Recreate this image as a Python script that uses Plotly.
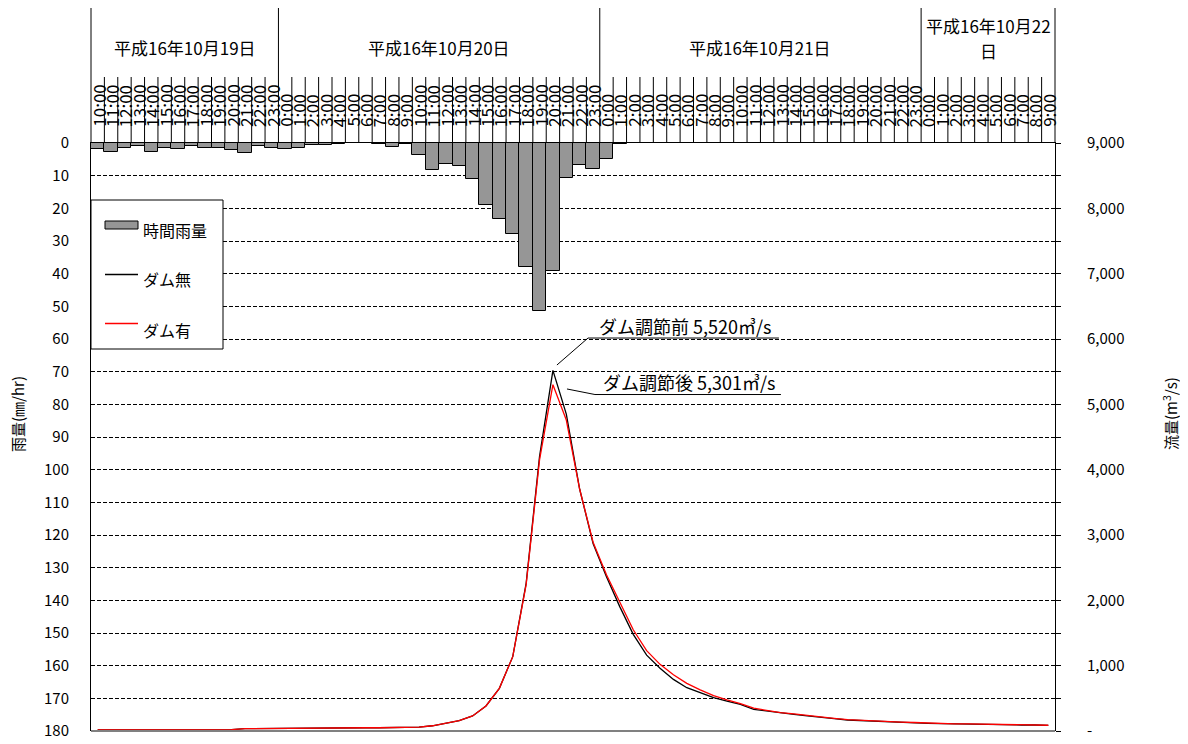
import plotly.graph_objects as go

# ---------------- data ----------------
hour_labels = [
    "10:00", "11:00", "12:00", "13:00", "14:00", "15:00", "16:00", "17:00", "18:00", "19:00",
    "20:00", "21:00", "22:00", "23:00",
    "0:00", "1:00", "2:00", "3:00", "4:00", "5:00", "6:00", "7:00", "8:00", "9:00",
    "10:00", "11:00", "12:00", "13:00", "14:00", "15:00", "16:00", "17:00", "18:00", "19:00",
    "20:00", "21:00", "22:00", "23:00",
    "0:00", "1:00", "2:00", "3:00", "4:00", "5:00", "6:00", "7:00", "8:00", "9:00",
    "10:00", "11:00", "12:00", "13:00", "14:00", "15:00", "16:00", "17:00", "18:00", "19:00",
    "20:00", "21:00", "22:00", "23:00",
    "0:00", "1:00", "2:00", "3:00", "4:00", "5:00", "6:00", "7:00", "8:00", "9:00",
]
# day labels, each as its wrapped lines
day_labels = [["平成16年10月19日"], ["平成16年10月20日"], ["平成16年10月21日"], ["平成16年10月22", "日"]]
day_hours = [14, 24, 24, 10]

rain = [
    1.8, 2.7, 1.5, 0.8, 2.7, 1.5, 1.8, 0.8, 1.5, 1.5, 2.2, 3.0, 0.8, 1.5,
    1.8, 1.5, 0.5, 0.5, 0.4, 0.1, 0.1, 0.2, 1.2, 0.4,
    3.8, 8.3, 6.4, 7.1, 11.0, 18.9, 23.2, 27.8, 38.0, 51.5, 39.2, 10.7, 6.8, 7.9,
    4.8, 0.2, 0.1, 0, 0, 0, 0, 0, 0, 0, 0, 0, 0, 0, 0, 0, 0, 0, 0, 0, 0, 0, 0, 0,
    0, 0, 0, 0, 0, 0, 0, 0, 0, 0,
]

flow_no_dam = [
    15, 15, 15, 15, 15, 15, 15, 15, 15, 15, 20, 35, 38, 40,
    42, 45, 47, 48, 49, 50, 50, 50, 50, 52,
    60, 80, 115, 158, 230, 383, 653, 1138, 2260, 4200, 5520, 4850, 3700, 2870,
    2360, 1900, 1480, 1160, 960, 790, 663, 587, 510, 459, 408, 332, 306, 270, 255, 230,
    204, 189, 168, 158, 148, 143, 133, 128,
    117, 112, 107, 107, 102, 97, 92, 92, 92, 87,
]

flow_dam = [
    15, 15, 15, 15, 15, 15, 15, 15, 15, 15, 20, 35, 38, 40,
    42, 45, 47, 48, 49, 50, 50, 50, 50, 52,
    60, 80, 115, 158, 230, 383, 653, 1138, 2240, 4150, 5301, 4760, 3700, 2890,
    2390, 1960, 1550, 1230, 1020, 860, 730, 630, 540, 475, 420, 350, 315, 280, 262, 236,
    210, 194, 173, 162, 152, 146, 136, 130,
    120, 114, 109, 108, 103, 98, 93, 93, 92, 88,
]

peak_texts = ["ダム調節前 5,520㎥/s", "ダム調節後 5,301㎥/s"]
legend_names = ["時間雨量", "ダム無", "ダム有"]

# ---------------- figure ----------------
FONT = "Noto Sans CJK JP"
OFF = 8                      # page body margin of the html page
W, H = 1188 - OFF, 744 - OFF
L, T, B = 91 - OFF, 143 - OFF, 13
PW = 964
R = W - L - PW
PH = H - T - B
idx = list(range(len(hour_labels)))
n = len(idx)


def py(pix):  # page pixel y (from top) -> paper y
    return (H + OFF - B - pix) / PH


def px(pix):  # page pixel x -> paper x
    return (pix - OFF - L) / PW


fig = go.Figure()
fig.add_trace(go.Bar(x=idx, y=rain, yaxis="y", name=legend_names[0],
                     marker=dict(color="#969696", line=dict(color="black", width=1))))
fig.add_trace(go.Scatter(x=idx, y=flow_no_dam, yaxis="y2", mode="lines", name=legend_names[1],
                         line=dict(color="black", width=1.3)))
fig.add_trace(go.Scatter(x=idx, y=flow_dam, yaxis="y2", mode="lines", name=legend_names[2],
                         line=dict(color="red", width=1.3)))

shapes = []
annotations = []

# header: hour tick separators and day separators
boundaries = [0]
for d in day_hours:
    boundaries.append(boundaries[-1] + d)
for k in range(n + 1):
    tall = k in boundaries
    shapes.append(dict(type="line", xref="paper", yref="paper",
                       x0=k / n, x1=k / n, y0=1.0, y1=py(8) if tall else py(77),
                       line=dict(color="black", width=1)))
for i, lab in enumerate(hour_labels):
    annotations.append(dict(x=i, y=py(129), xref="x", yref="paper", text=lab,
                            textangle=-90, showarrow=False, xanchor="center", yanchor="bottom",
                            font=dict(family=FONT, size=17, color="black")))
for d, lines in enumerate(day_labels):
    xc = (boundaries[d] + boundaries[d + 1]) / 2 / n
    ys = [47] if len(lines) == 1 else [25, 50]
    for txt, yy in zip(lines, ys):
        annotations.append(dict(x=xc, y=py(yy), xref="paper", yref="paper",
                                text=txt, showarrow=False, xanchor="center", yanchor="middle",
                                font=dict(family=FONT, size=17, color="black")))

# bottom border
shapes.append(dict(type="line", xref="paper", yref="paper", x0=0, x1=1, y0=0, y1=0,
                   line=dict(color="#808080", width=2)))

# legend box
shapes.append(dict(type="rect", xref="paper", yref="paper", x0=px(91), x1=px(223),
                   y0=py(349), y1=py(200), fillcolor="white", line=dict(color="black", width=1),
                   layer="above"))
shapes.append(dict(type="rect", xref="paper", yref="paper", x0=px(105), x1=px(138),
                   y0=py(229), y1=py(221), fillcolor="#969696", line=dict(color="black", width=1),
                   layer="above"))
shapes.append(dict(type="line", xref="paper", yref="paper", x0=px(105), x1=px(138),
                   y0=py(274.5), y1=py(274.5), line=dict(color="black", width=1.3), layer="above"))
shapes.append(dict(type="line", xref="paper", yref="paper", x0=px(105), x1=px(138),
                   y0=py(323.5), y1=py(323.5), line=dict(color="red", width=1.3), layer="above"))
for name, yy in zip(legend_names, [230, 279, 329.5]):
    annotations.append(dict(x=px(141), y=py(yy), xref="paper", yref="paper", text=name,
                            showarrow=False, xanchor="left", yanchor="middle",
                            font=dict(family=FONT, size=16, color="black")))

# peak call-outs (leader + underline)
shapes.append(dict(type="path", xref="x", yref="y2",
                   path="M 34.3,5602 L 36.62,6015 L 50.88,6015",
                   line=dict(color="black", width=1)))
shapes.append(dict(type="path", xref="x", yref="y2",
                   path="M 35.05,5235 L 37.14,5150 L 51.03,5150",
                   line=dict(color="black", width=1)))
annotations.append(dict(x=43.9, y=6205, xref="x", yref="y2", text=peak_texts[0],
                        showarrow=False, xanchor="center", yanchor="middle",
                        font=dict(family=FONT, size=18, color="black")))
annotations.append(dict(x=44.2, y=5335, xref="x", yref="y2", text=peak_texts[1],
                        showarrow=False, xanchor="center", yanchor="middle",
                        font=dict(family=FONT, size=18, color="black")))

# axis titles
annotations.append(dict(x=px(17), y=py(414), xref="paper", yref="paper", text="雨量(㎜/hr)",
                        textangle=-90, showarrow=False, xanchor="center", yanchor="middle",
                        font=dict(family=FONT, size=15, color="black")))
annotations.append(dict(x=px(1170), y=py(414), xref="paper", yref="paper",
                        text="流量(m<sup>3</sup>/s)",
                        textangle=-90, showarrow=False, xanchor="center", yanchor="middle",
                        font=dict(family=FONT, size=15, color="black")))

flow_ticks = [0, 1000, 2000, 3000, 4000, 5000, 6000, 7000, 8000, 9000]
flow_ticktext = ["-", "1,000", "2,000", "3,000", "4,000", "5,000", "6,000", "7,000", "8,000", "9,000"]

fig.update_layout(
    width=W, height=H, margin=dict(l=L, r=R, t=T, b=B, pad=0, autoexpand=False),
    plot_bgcolor="white", paper_bgcolor="white",
    bargap=0, showlegend=False,
    font=dict(family=FONT, color="black"),
    xaxis=dict(range=[-0.5, n - 0.5], showticklabels=False, ticks="", showgrid=False,
               zeroline=False, side="top", showline=True, linecolor="black", linewidth=1),
    yaxis=dict(range=[180, 0], tick0=0, dtick=10, showgrid=True, gridcolor="black",
               griddash="4px,2px", gridwidth=1, zeroline=False, showline=True,
               linecolor="black", linewidth=1, ticks="", ticklabelstandoff=18,
               tickfont=dict(family=FONT, size=15, color="black")),
    yaxis2=dict(range=[0, 9000], overlaying="y", side="right", tickvals=flow_ticks,
                ticktext=flow_ticktext, showgrid=False, zeroline=False, showline=True,
                linecolor="black", linewidth=1, ticks="outside", ticklen=5, tickcolor="black",
                minor=dict(dtick=500, tick0=0, ticks="outside", ticklen=5, tickcolor="black",
                           showgrid=False),
                ticklabelstandoff=23,
                tickfont=dict(family=FONT, size=15, color="black")),
    shapes=shapes, annotations=annotations,
)

fig.write_html("out.html")
